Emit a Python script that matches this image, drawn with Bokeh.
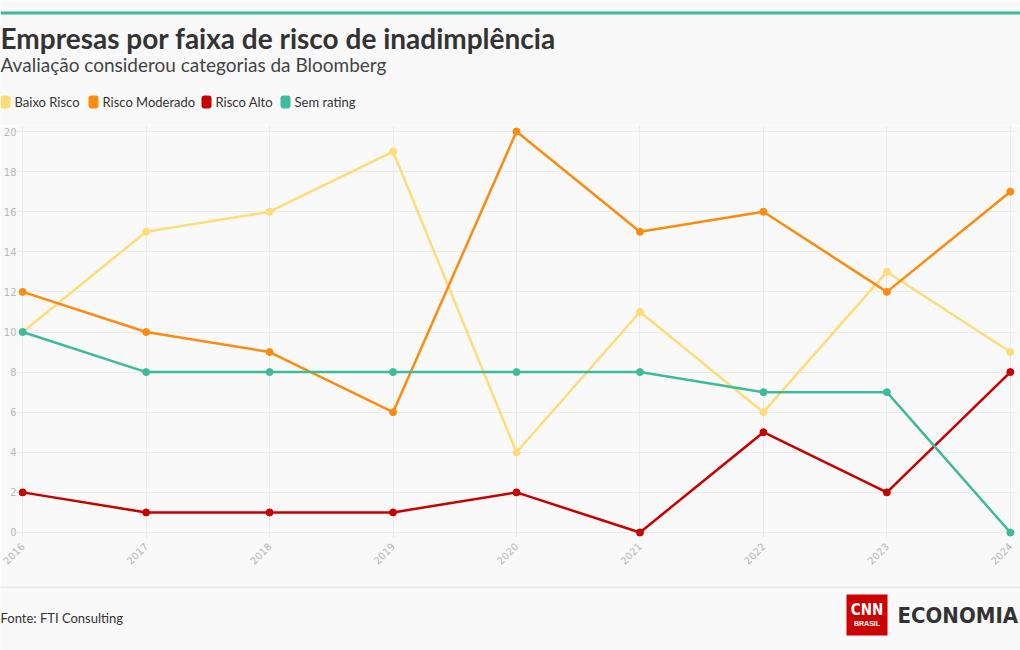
from math import pi
from bokeh.plotting import figure
from bokeh.layouts import column
from bokeh.models import Range1d, FixedTicker, Label
from bokeh.embed import file_html
from bokeh.resources import INLINE

years = [2016, 2017, 2018, 2019, 2020, 2021, 2022, 2023, 2024]
baixo_risco = [10, 15, 16, 19, 4, 11, 6, 13, 9]
risco_moderado = [12, 10, 9, 6, 20, 15, 16, 12, 17]
risco_alto = [2, 1, 1, 1, 2, 0, 5, 2, 8]
sem_rating = [10, 8, 8, 8, 8, 8, 7, 7, 0]
series_names = ["Baixo Risco", "Risco Moderado", "Risco Alto", "Sem rating"]
series_values = [baixo_risco, risco_moderado, risco_alto, sem_rating]
colors = ["#ffdc7a", "#fb8c0f", "#c80000", "#3dbb9b"]
y_ticks = list(range(0, 21, 2))

title = "Empresas por faixa de risco de inadimplência"
subtitle = "Avaliação considerou categorias da Bloomberg"
source = "Fonte: FTI Consulting"

BG = "#f9f9f9"
W = 1020
HEAD_H, CHART_H, FOOT_H = 125, 461, 64
FONT = "Lato"
COND = "'DejaVu Sans Condensed', 'Liberation Sans', sans-serif"


def canvas_fig(h):
    f = figure(width=W, height=h, output_backend="svg", toolbar_location=None,
               x_range=Range1d(0, W), y_range=Range1d(h, 0),
               x_axis_location=None, y_axis_location=None,
               min_border=0, min_border_left=0, min_border_right=0,
               min_border_top=0, min_border_bottom=0, frame_align=False,
               background_fill_color=BG, border_fill_color=BG,
               outline_line_color=None)
    f.grid.visible = False
    return f


def lab(f, x, y, text, size, color, style="normal", font=FONT, align="left", baseline="middle"):
    f.add_layout(Label(x=x, y=y, text=text, text_font=font, text_font_size=size,
                       text_color=color, text_font_style=style,
                       text_baseline=baseline, text_align=align))


# ---------- header ----------
head = canvas_fig(HEAD_H)
head.quad(left=[0], right=[W], top=[11], bottom=[14], fill_color="#3dbb9b", line_color=None)
lab(head, 0, 37, title, "28px", "#333333", "bold")
lab(head, 0, 64, subtitle, "19px", "#444444")

legend_x = [0, 88, 201, 280]
for lx, name, c in zip(legend_x, series_names, colors):
    head.quad(left=[lx], right=[lx + 10], top=[95], bottom=[108], fill_color=c,
              line_color=None, border_radius=3)
    lab(head, lx + 14, 101.5, name, "13px", "#333333")

# ---------- chart ----------
p = figure(width=W, height=CHART_H, output_backend="svg", toolbar_location=None,
           x_range=Range1d(2015.95, 2024.05), y_range=Range1d(-0.3, 20.3),
           min_border_left=15, min_border_right=4, min_border_top=0, min_border_bottom=48,
           frame_align=False,
           background_fill_color=BG, border_fill_color=BG, outline_line_color=None)

p.xaxis.ticker = FixedTicker(ticks=years)
p.yaxis.ticker = FixedTicker(ticks=y_ticks)
p.xgrid.ticker = FixedTicker(ticks=years)
p.ygrid.ticker = FixedTicker(ticks=y_ticks)
p.grid.grid_line_color = "#ebebeb"
p.grid.grid_line_width = 1
for ax in (p.xaxis, p.yaxis):
    ax.axis_line_color = None
    ax.major_tick_line_color = None
    ax.minor_tick_line_color = None
    ax.major_tick_out = 0
    ax.major_tick_in = 0
    ax.minor_tick_out = 0
    ax.minor_tick_in = 0
    ax.major_label_text_color = "#b8b8b8"
    ax.major_label_text_font = "DejaVu Sans"
    ax.major_label_text_font_size = "10px"
p.yaxis.major_label_standoff = 0
p.xaxis.major_label_standoff = 6
p.xaxis.major_label_orientation = pi / 4

for name, vals, c in zip(series_names, series_values, colors):
    p.line(years, vals, line_width=2.5, line_color=c)
    p.scatter(years, vals, size=7, fill_color=c, line_color=c)

# ---------- footer ----------
foot = canvas_fig(FOOT_H)
foot.quad(left=[0], right=[W], top=[0], bottom=[1], fill_color="#d8d8d8", line_color=None)
lab(foot, 0, 31.5, source, "13px", "#333333")
foot.quad(left=[846], right=[887], top=[8], bottom=[49], fill_color="#cc0000", line_color=None)
lab(foot, 866.5, 23, "CNN", "15px", "#ffffff", "bold", COND, "center")
lab(foot, 866.5, 37, "BRASIL", "7px", "#ffffff", "bold", "Liberation Sans", "center")
lab(foot, 897, 29, "ECONOMIA", "22px", "#333333", "bold", COND)

layout = column(head, p, foot, spacing=0)
open("out.html", "w").write(file_html(layout, INLINE))
